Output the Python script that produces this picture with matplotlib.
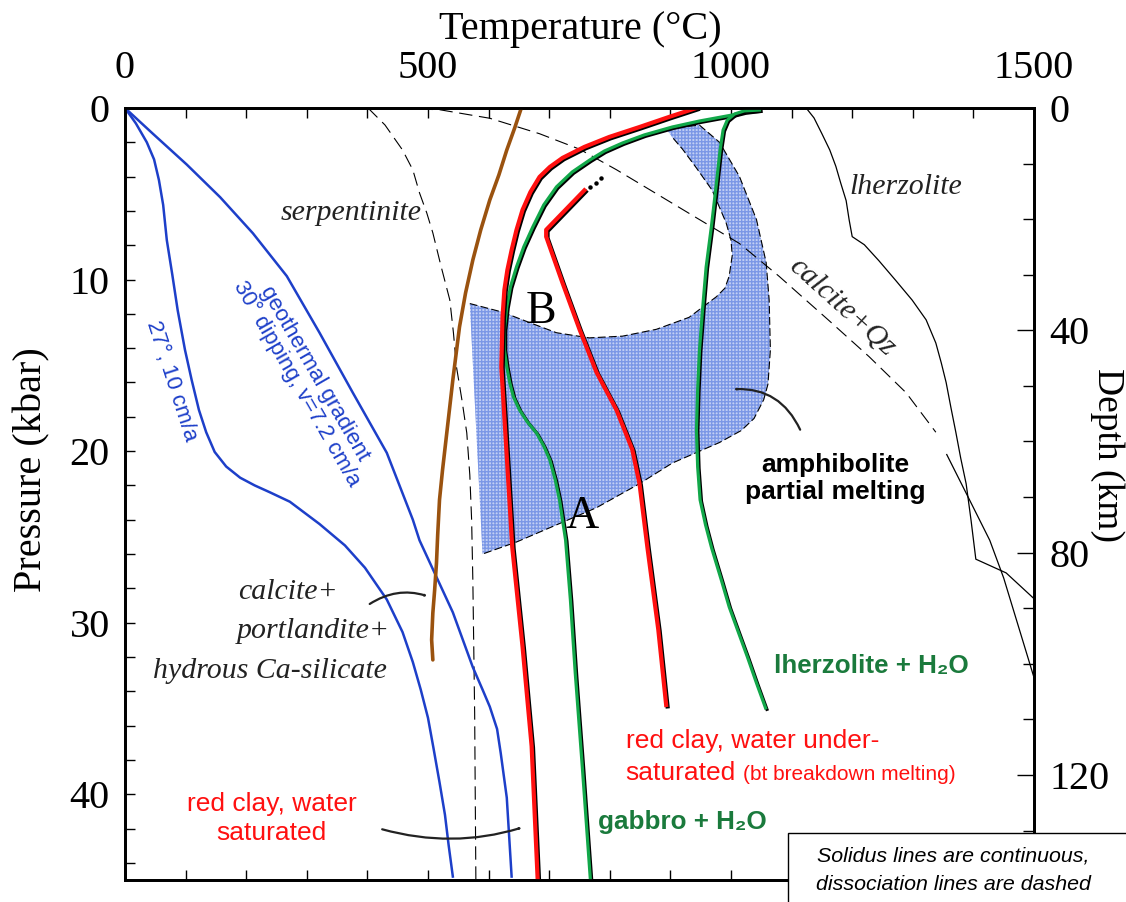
#!/usr/bin/env python3
"""P-T diagram: solidus / dissociation curves with subduction geotherms."""

import matplotlib
matplotlib.use("Agg")
import matplotlib.pyplot as plt
import matplotlib.patheffects as pe
from matplotlib.patches import Polygon, Rectangle, FancyArrowPatch
from matplotlib.ticker import MultipleLocator

SERIF = "Liberation Serif"
SANS = ["Liberation Sans", "DejaVu Sans"]

# ── curves: temperature (°C) vs pressure (kbar) ──
geo27_T = [0, 18, 36, 48, 56, 63, 69, 78, 87, 99, 110, 122, 134, 148, 167, 190, 214, 239,
           272, 321, 363, 396, 432, 458, 475, 488, 500, 509, 519, 528, 534, 541]
geo27_P = [0, 0.9, 2.0, 3.0, 4.2, 5.65, 7.7, 9.7, 11.8, 14.1, 15.85, 17.6, 18.9, 20.05, 20.9,
           21.55, 22.0, 22.4, 22.95, 24.25, 25.5, 26.8, 28.65, 30.55, 32.3, 33.9, 35.55, 37.3,
           39.3, 41.2, 42.95, 44.8]

geo30_T = [0, 46, 102, 157, 211, 267, 321, 376, 432, 475, 486, 541, 574, 590, 602, 614, 620,
           630, 638]
geo30_P = [0, 1.5, 3.3, 5.2, 7.3, 9.8, 13.1, 16.6, 20.1, 24.0, 25.2, 29.4, 32.6, 33.9, 34.9,
           36.2, 37.6, 40.2, 44.8]

portl_T = [654, 643, 630, 617, 602, 587, 574, 562, 552, 541, 531, 524, 519, 516, 514, 511,
           508, 506, 508]
portl_P = [0, 1.17, 2.45, 3.9, 5.36, 7.11, 8.86, 10.78, 12.76, 15.85, 18.94, 21.1, 22.84,
           24.88, 26.52, 28.09, 29.43, 31.0, 32.17]

serp_T = [401, 429, 458, 475, 486, 498, 508, 521, 536, 542, 547, 556, 564, 569, 572, 574,
          577, 579]
serp_P = [0, 0.99, 2.45, 3.61, 4.95, 6.12, 7.28, 9.15, 11.19, 13.11, 15.09, 17.02, 18.94,
          21.39, 24.01, 27.51, 35.26, 45.0]

calqz_T = [420, 519, 602, 684, 750, 811, 877, 943, 1014, 1079, 1162, 1228, 1289, 1338]
calqz_P = [0, 0.1, 0.6, 1.5, 2.4, 3.6, 5.0, 6.4, 7.9, 9.8, 12.4, 14.5, 16.6, 18.9]

lherz_T = [1124, 1137, 1150, 1163, 1173, 1181, 1190, 1195, 1200, 1220, 1244, 1272, 1299,
           1322, 1338, 1347, 1355, 1363, 1371, 1379, 1388, 1396, 1404, 1454, 1500]
lherz_P = [0, 0.58, 1.5, 2.45, 3.4, 4.37, 5.4, 6.53, 7.5, 7.97, 8.9, 10.06, 11.2, 12.35,
           13.7, 14.86, 16.0, 17.48, 18.9, 20.4, 21.9, 24.0, 26.3, 27.1, 28.6]

other_T = [1356, 1393, 1427, 1450, 1500]
other_P = [20.2, 22.8, 25.2, 27.4, 33.2]

clay_sat_T = [943, 898, 849, 799, 758, 722, 701, 684, 669, 656, 646, 638, 631, 626, 623,
              621, 626, 631, 639, 656, 671, 681]
clay_sat_P = [0, 0.52, 1.11, 1.69, 2.27, 2.91, 3.44, 4.02, 4.9, 5.94, 7.11, 8.28, 9.44,
              10.61, 12.18, 15.1, 18.0, 20.9, 25.6, 31.4, 37.2, 45.0]

clay_under_T = [758, 695, 695, 722, 750, 778, 811, 837, 849, 862, 880, 893]
clay_under_P = [4.8, 7.1, 7.5, 10.2, 12.9, 15.4, 17.6, 19.9, 21.9, 25.6, 30.4, 34.8]
clay_dots_T = [768, 778, 786]
clay_dots_P = [4.6, 4.35, 4.1]

gabbro_T = [1047, 1022, 1002, 948, 903, 857, 821, 791, 767, 738, 712, 691, 673, 658, 646,
            636, 630, 626, 626, 630, 635, 641, 651, 664, 679, 691, 701, 710, 717, 722, 727,
            735, 743, 755, 768]
gabbro_P = [0.12, 0.23, 0.41, 0.76, 1.11, 1.57, 2.04, 2.51, 3.03, 3.73, 4.6, 5.65, 6.93,
            8.1, 9.27, 10.43, 11.6, 12.94, 14.1, 15.09, 16.03, 16.84, 17.6, 18.3, 18.94,
            19.7, 20.51, 21.68, 22.84, 24.01, 25.17, 28.67, 32.93, 38.58, 45.0]

lherz_h2o_T = [1047, 1022, 1006, 994, 987, 982, 976, 968, 959, 953, 948, 945, 943, 945, 949,
               958, 968, 984, 997, 1012, 1027, 1042, 1057]
lherz_h2o_P = [0.12, 0.17, 0.35, 0.7, 1.28, 2.45, 4.37, 6.82, 9.27, 11.77, 14.1, 16.43,
               18.76, 20.92, 22.84, 24.3, 25.64, 27.51, 29.08, 30.54, 31.99, 33.51, 34.97]

# amphibolite partial melting field: outer rim, left edge, then inner rim
amph_T = [893, 948, 981, 1014, 1042, 1058, 1063, 1065, 1061, 1054, 1038, 1017, 981, 903,
          849, 778, 646, 590, 569, 623, 667, 712, 766, 821, 877, 931, 976, 990, 997, 1002,
          1000, 992, 969, 943, 920, 903]
amph_P = [1.2, 1.0, 2.0, 4.0, 6.5, 9.0, 11.2, 14.1, 16.1, 17.0, 18.1, 18.8, 19.5, 20.7,
          21.9, 23.3, 25.3, 26.0, 11.4, 11.9, 12.5, 13.1, 13.4, 13.3, 12.9, 12.2, 11.0,
          10.5, 9.8, 8.6, 7.7, 6.7, 4.8, 3.5, 2.4, 1.7]
N_OUTER = 19   # first 19 vertices: outer rim down to the lower-left corner, then left edge

temp_ticks = [0, 500, 1000, 1500]
press_ticks = [0, 10, 20, 30, 40]
depth_ticks = [0, 40, 80, 120]

BLUE = "#1d3fc9"
RED = "#ff1010"
GREEN = "#12a84a"
DKGREEN = "#1a7a3c"
BROWN = "#9a520f"


def shadowed(lw):
    return [pe.Stroke(offset=(1.0, -1.0), linewidth=lw, foreground="black"), pe.Normal()]


fig = plt.figure(figsize=(11.26, 9.02), dpi=100)
ax = fig.add_axes([0.1110, 0.02439, 0.8073, 0.8559])
ax.set_xlim(0, 1500)
ax.set_ylim(45, 0)

# shaded field
ax.add_patch(Polygon(list(zip(amph_T, amph_P)), closed=True, facecolor="#c2cff4",
                     edgecolor="none", zorder=1))
ax.add_patch(Polygon(list(zip(amph_T, amph_P)), closed=True, facecolor="none",
                     edgecolor="#7b97e6", linewidth=0, hatch="+++++", zorder=1.1))
ax.plot(amph_T[:N_OUTER - 1], amph_P[:N_OUTER - 1], color="black", lw=0.8,
        ls=(0, (7, 3)), zorder=1.2)
ax.plot(amph_T[N_OUTER - 1:], amph_P[N_OUTER - 1:], color="black", lw=0.8,
        ls=(0, (7, 3)), zorder=1.2)

# dissociation lines (dashed) and dry solidus (thin black)
ax.plot(serp_T, serp_P, color="black", lw=0.8, ls=(0, (12, 6)), zorder=2)
ax.plot(calqz_T, calqz_P, color="black", lw=0.8, ls=(0, (12, 6)), zorder=2)
ax.plot(lherz_T, lherz_P, color="black", lw=0.9, zorder=2)
ax.plot(other_T, other_P, color="black", lw=0.9, zorder=2)

# geotherms
ax.plot(geo27_T, geo27_P, color=BLUE, lw=1.8, zorder=3)
ax.plot(geo30_T, geo30_P, color=BLUE, lw=1.8, zorder=3)
ax.plot(portl_T, portl_P, color=BROWN, lw=2.6, zorder=3, solid_capstyle="round")

# wet solidi
ax.plot(gabbro_T, gabbro_P, color=GREEN, lw=2.3, zorder=4, path_effects=shadowed(2.3))
ax.plot(lherz_h2o_T, lherz_h2o_P, color=GREEN, lw=2.3, zorder=4, path_effects=shadowed(2.3))
ax.plot(clay_sat_T, clay_sat_P, color=RED, lw=3.0, zorder=5, path_effects=shadowed(3.0))
ax.plot(clay_under_T, clay_under_P, color=RED, lw=3.0, zorder=5, path_effects=shadowed(3.0))
ax.plot(clay_dots_T, clay_dots_P, "o", color="black", ms=2.2, zorder=5)

# ── axes, ticks ──
for sp in ax.spines.values():
    sp.set_linewidth(2)
ax.xaxis.tick_top()
ax.set_xticks(temp_ticks)
ax.xaxis.set_minor_locator(MultipleLocator(100))
ax.set_yticks(press_ticks)
ax.yaxis.set_minor_locator(MultipleLocator(2))
ax.tick_params(which="both", direction="in", top=True, bottom=True, left=True, right=False,
               length=7, width=1)
ax.tick_params(axis="x", labeltop=True, labelbottom=False, pad=15, labelsize=29)
ax.tick_params(axis="y", pad=11, labelsize=29)
for lab in ax.get_xticklabels() + ax.get_yticklabels():
    lab.set_fontfamily(SERIF)

ax2 = ax.twinx()
ax2.set_ylim(138.9, 0)
ax2.set_yticks(depth_ticks)
ax2.yaxis.set_minor_locator(MultipleLocator(10))
ax2.tick_params(which="major", direction="in", length=12, width=1, pad=11, labelsize=29)
ax2.tick_params(which="minor", direction="in", length=8, width=1)
for lab in ax2.get_yticklabels():
    lab.set_fontfamily(SERIF)
for sp in ax2.spines.values():
    sp.set_linewidth(2)

fig.text(580 / 1126, 1 - 30 / 902, "Temperature (°C)", family=SERIF, fontsize=29,
         ha="center", va="center")
fig.text(32 / 1126, 1 - 470 / 902, "Pressure (kbar)", family=SERIF, fontsize=29,
         ha="center", va="center", rotation=90)
fig.text(1107 / 1126, 1 - 455 / 902, "Depth (km)", family=SERIF, fontsize=27,
         ha="center", va="center", rotation=-90)

# ── annotations ──
it = dict(family=SERIF, style="italic", fontsize=21.5, color="#222222", zorder=6)
ax.text(374, 6.1, "serpentinite", ha="center", va="center", **it)
ax.text(1289, 4.6, "lherzolite", ha="center", va="center", **it)
ax.text(1183, 11.6, "calcite+Qz", ha="center", va="center", rotation=-42,
        rotation_mode="anchor", **it)
ax.text(186, 28.2, "calcite+", ha="left", va="center", **it)
ax.text(185, 30.5, "portlandite+", ha="left", va="center", **it)
ax.text(46, 32.8, "hydrous Ca-silicate", ha="left", va="center", **it)

ax.text(686, 11.9, "B", family=SERIF, fontsize=33, ha="center", va="center", zorder=6)
ax.text(755, 23.8, "A", family=SERIF, fontsize=33, ha="center", va="center", zorder=6)

ax.text(77, 15.9, "27°, 10 cm/a", family=SANS, fontsize=16, color=BLUE, ha="center",
        va="center", rotation=-72, rotation_mode="anchor", zorder=6)
ax.text(298, 15.8, "geothermal gradient\n30° dipping, v=7.2 cm/a", family=SANS, fontsize=16,
        color=BLUE, ha="center", va="center", rotation=-60, rotation_mode="anchor",
        linespacing=1.0, zorder=6)

ax.text(1172, 21.6, "amphibolite\npartial melting", family=SANS, fontsize=19,
        weight="bold", ha="center", va="center", linespacing=1.15, zorder=6)
ax.text(1231, 32.5, "lherzolite + H₂O", family=SANS, fontsize=18.7, weight="bold",
        color=DKGREEN, ha="center", va="center", zorder=6)
ax.text(920, 41.6, "gabbro + H₂O", family=SANS, fontsize=18.7, weight="bold",
        color=DKGREEN, ha="center", va="center", zorder=6)
ax.text(826, 37.3, "red clay, water under-", family=SANS, fontsize=19, color=RED,
        ha="left", va="baseline", zorder=6)
ax.text(826, 39.2, "saturated", family=SANS, fontsize=19, color=RED,
        ha="left", va="baseline", zorder=6)
ax.text(1020, 39.2, "(bt breakdown melting)", family=SANS, fontsize=15, color=RED,
        ha="left", va="baseline", zorder=6)
ax.text(242, 41.4, "red clay, water\nsaturated", family=SANS, fontsize=19, color=RED,
        ha="center", va="center", linespacing=1.25, zorder=6)

arrow_kw = dict(arrowstyle="->,head_length=0.5,head_width=0.25", color="#222222",
                lw=1.6, zorder=6)
ax.add_patch(FancyArrowPatch((400, 29.0), (503, 28.5),
                             connectionstyle="arc3,rad=-0.25", **arrow_kw))
ax.add_patch(FancyArrowPatch((420, 42.0), (659, 41.9),
                             connectionstyle="arc3,rad=0.15", **arrow_kw))
ax.add_patch(FancyArrowPatch((1116, 18.9), (1000, 16.4),
                             connectionstyle="arc3,rad=0.35", **arrow_kw))

# note box in the lower right corner
box = Rectangle((788 / 1126, -0.05), 0.5, 0.05 + (902 - 833) / 902, transform=fig.transFigure,
                facecolor="white", edgecolor="black", lw=1.0, zorder=10)
fig.add_artist(box)
fig.text(953 / 1126, 1 - 856 / 902, "Solidus lines are continuous,", family=SANS,
         style="italic", fontsize=15.4, ha="center", va="center", zorder=11)
fig.text(953 / 1126, 1 - 884 / 902, "dissociation lines are dashed", family=SANS,
         style="italic", fontsize=15.4, ha="center", va="center", zorder=11)

fig.savefig("out.png", dpi=100)
